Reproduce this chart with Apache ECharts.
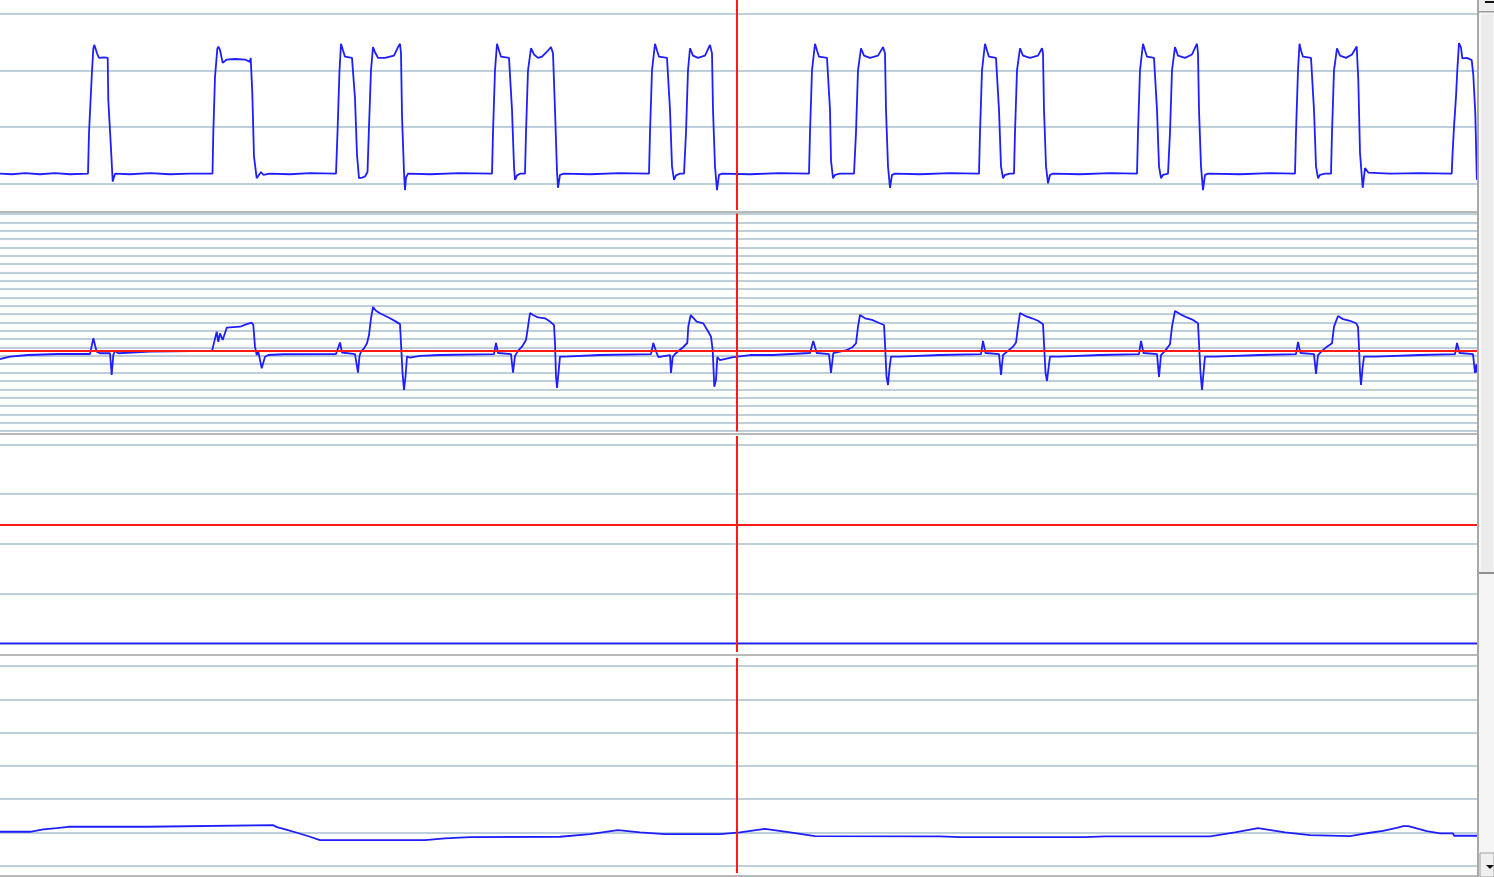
<!DOCTYPE html>
<html>
<head>
<meta charset="utf-8">
<title>Scope</title>
<script src="https://cdn.jsdelivr.net/npm/echarts@6.0.0/dist/echarts.min.js"></script>
<style>
  html, body { margin: 0; padding: 0; background: #fff; overflow: hidden; }
  #scope { width: 1494px; height: 877px; }
</style>
</head>
<body>
<div id="scope"></div>
<script>
  // time axis (samples) and cursor
  var timeMin = 0;
  var timeMax = 1477;
  var cursorTime = 737;

  // channel 1 : pulse train
  var ch1Trace = [
    [0,0.17],[12,0.16],[25,0.18],[40,0.16],[55,0.18],[70,0.16],[88,0.17],
    [89,0.89],[91.7,1.88],[93.3,2.38],[94.3,2.45],[96,2.36],[97,2.30],[99,2.22],[104,2.23],[107.7,2.22],[108.3,1.47],[110.7,0.71],[112.7,0.03],[113.5,0.06],[115,0.17],
    [130,0.16],[150,0.18],[170,0.16],[190,0.17],[212.5,0.17],
    [213.3,0.89],[215,1.88],[217.3,2.38],[218.3,2.42],[220,2.36],[222.7,2.13],[226.7,2.19],[235,2.20],[245,2.19],[250,2.15],[250.7,2.22],[252.3,1.60],[254,0.47],[256.7,0.09],[258,0.11],[261,0.20],[263.3,0.15],[270,0.17],
    [290,0.16],[310,0.18],[336,0.17],
    [337.5,0.9],[339.5,2.0],[341,2.47],[343,2.35],[345,2.24],[352,2.22],[354,2.24],[355,1.5],[357,0.5],[359,0.09],[362,0.10],[365,0.12],[367.5,0.20],
    [369,1.0],[371,2.0],[373,2.41],[375,2.32],[378,2.22],[385,2.22],[394,2.26],[398,2.41],[400,2.47],[401,2.30],[402,1.20],[404,0.20],[405,-0.12],[406,0.10],[408,0.17],
    [430,0.16],[460,0.18],[492,0.17],
    [493,0.9],[495,2.0],[497,2.47],[499,2.35],[501,2.24],[509,2.22],[511,2.24],[512,1.3],[514,0.3],[515,0.06],[517,0.14],[520,0.17],[525,0.17],
    [526,0.9],[528,2.0],[531,2.39],[534,2.28],[538,2.22],[542,2.24],[548,2.35],[551,2.41],[553,2.30],[555,1.3],[557,0.2],[558,-0.08],[560,0.15],[564,0.17],
    [590,0.16],[620,0.18],[649,0.17],
    [650,0.9],[652,2.0],[655,2.47],[657,2.35],[659,2.24],[667,2.22],[669,2.24],[670,1.3],[672,0.3],[674,0.06],[676,0.14],[680,0.17],[684,0.17],
    [686,0.9],[688,2.0],[690,2.39],[693,2.26],[698,2.22],[705,2.26],[710,2.45],[712,2.30],[713,1.3],[715,0.3],[717,-0.12],[719,0.15],[722,0.17],
    [750,0.16],[780,0.18],[809,0.17],
    [810,0.9],[812,2.0],[815,2.47],[817,2.35],[819,2.24],[827,2.22],[829,2.24],[830,1.3],[831,0.4],[833,0.09],[835,0.15],[840,0.17],[854,0.17],
    [856,0.9],[858,2.0],[861,2.39],[864,2.26],[870,2.22],[878,2.26],[883,2.41],[885,2.30],[886,1.3],[888,0.3],[890,-0.08],[892,0.15],[895,0.17],
    [920,0.16],[950,0.18],[979,0.17],
    [980,0.9],[982,2.0],[985,2.47],[987,2.35],[989,2.24],[996,2.22],[998,2.24],[999,1.3],[1001,0.3],[1003,0.09],[1005,0.15],[1010,0.17],[1014,0.17],
    [1015,0.9],[1017,2.0],[1020,2.39],[1023,2.26],[1030,2.22],[1038,2.26],[1042,2.39],[1043,2.30],[1044,1.3],[1046,0.3],[1048,0.0],[1050,0.15],[1053,0.17],
    [1080,0.16],[1110,0.18],[1137,0.17],
    [1138,0.9],[1140,2.0],[1143,2.47],[1145,2.35],[1147,2.24],[1154,2.22],[1156,2.24],[1157,1.3],[1159,0.3],[1161,0.09],[1163,0.15],[1168,0.17],
    [1170,0.9],[1172,2.0],[1175,2.41],[1178,2.26],[1185,2.22],[1192,2.28],[1197,2.47],[1198,2.30],[1199,1.3],[1201,0.3],[1203,-0.12],[1205,0.15],[1208,0.17],
    [1240,0.16],[1270,0.18],[1295,0.17],
    [1296,0.9],[1298,2.0],[1299.5,2.47],[1301,2.35],[1303,2.24],[1311,2.22],[1313,2.24],[1314,1.3],[1316,0.3],[1318,0.09],[1320,0.15],[1325,0.17],[1331,0.17],
    [1332,0.9],[1334,2.0],[1337,2.39],[1340,2.26],[1346,2.22],[1352,2.28],[1356.7,2.42],[1358.3,1.83],[1360,0.54],[1362.7,-0.08],[1365,0.27],[1368.3,0.19],
    [1390,0.17],[1420,0.18],[1451.7,0.17],
    [1452.5,0.5],[1454,1.0],[1456,1.53],[1457.3,2.0],[1459,2.48],[1461,2.40],[1462.3,2.21],[1467,2.22],[1471.7,2.18],[1473.3,1.92],[1475.3,1.24],[1476.7,0.17],[1477,0.06]
  ];

  // channel 2 : differentiated signal
  var ch2Trace = [
    [0,8.62],[10,8.90],[28,9.10],[58,9.22],[90,9.22],[93.3,11.10],[96.7,9.50],[100,9.31],[110,9.31],[111.7,6.71],[113.3,9.10],[115,9.62],[118.3,9.31],[150,9.50],[212,9.60],
    [213.3,9.62],[216.7,11.89],[218.3,10.69],[220,11.70],[222.7,10.90],[226.7,12.37],[240,12.49],[246.7,12.81],[251.7,12.97],[253.3,12.69],[255,10.10],[256.7,9.10],[258.3,9.50],[261.7,7.51],[265,8.90],[268.3,9.10],[283.3,9.19],[336,9.22],
    [338,9.30],[340,10.60],[342,9.40],[355,9.20],[357,9.00],[358,7.00],[359.5,9.00],[361,9.50],[364,9.90],[367,10.50],[369,11.50],[371,13.50],[373,14.85],[376,14.40],[380,14.10],[385,13.80],[390,13.50],[396,13.10],[400,12.80],[401,10.50],[402.5,7.00],[404,4.91],[405.5,6.50],[407,8.90],[410,8.80],[420,9.00],[440,9.10],[494,9.20],
    [496,10.54],[498,9.34],[511,9.20],[513,7.00],[515,9.00],[518,9.60],[522,10.10],[526,10.90],[528,12.50],[530,14.13],[533,13.90],[538,13.60],[545,13.50],[550,13.10],[554,12.70],[555,10.50],[556,6.50],[557,5.15],[558.5,7.00],[560,8.90],[565,8.90],[600,9.10],[651,9.20],
    [653.3,10.54],[656.7,9.34],[658.3,8.86],[670,9.10],[671,6.95],[672.7,8.86],[675,9.22],[683.3,10.06],[687.3,10.54],[688.3,12.52],[690.7,13.89],[696.7,13.09],[703.3,12.89],[708.3,11.89],[711,11.29],[712.7,9.70],[714.3,5.30],[716,6.11],[717.3,8.86],[720,8.50],[733.3,8.86],[750,9.10],[773,9.10],[810,9.34],
    [813.3,10.78],[816.7,9.34],[829,9.20],[831,6.95],[833.3,9.34],[846.7,9.70],[852,10.00],[856,10.50],[858,12.50],[860,13.89],[865,13.50],[872,13.30],[878,13.00],[884,12.70],[885,10.50],[886.5,6.50],[888,5.51],[889.5,7.50],[891,8.90],[900,8.90],[940,9.10],[981,9.20],
    [983,10.78],[985.5,9.34],[999,9.20],[1001,6.71],[1003,9.10],[1008,9.60],[1013,10.10],[1016,10.60],[1018,12.50],[1020,14.13],[1025,13.80],[1032,13.50],[1038,13.20],[1043,12.80],[1044,10.50],[1045.5,7.00],[1047,5.99],[1048.5,7.50],[1050,8.90],[1060,8.90],[1100,9.10],[1139,9.20],
    [1141,10.78],[1143.5,9.34],[1157,9.20],[1159,6.47],[1161,9.10],[1165,9.60],[1170,10.40],[1172,12.50],[1175,14.37],[1180,14.00],[1187,13.60],[1193,13.30],[1198,12.90],[1199,10.50],[1200.5,7.00],[1202,4.91],[1203.5,7.00],[1205,8.90],[1215,8.90],[1260,9.10],[1296,9.20],
    [1298,10.66],[1300.5,9.34],[1314,9.20],[1316,6.83],[1318,9.10],[1322,9.60],[1327,10.10],[1332,10.50],[1334,12.50],[1338,13.77],[1343,13.40],[1350,13.20],[1356,12.90],[1358,12.50],[1359,10.00],[1360,7.00],[1361,5.51],[1362.5,7.50],[1364,8.90],[1375,8.90],[1420,9.10],[1455,9.20],
    [1457,10.54],[1459.5,9.34],[1473,9.20],[1475,6.95],[1476.5,8.00],[1477,7.00]
  ];

  // channel 3 : flat
  var ch3Trace = [[0,0],[400,0],[800,0],[1200,0],[1477,0]];

  // channel 4 : slow drift
  var ch4Trace = [
    [0,1.02],[30,1.02],[31.7,1.05],[43.3,1.09],[56.7,1.13],[68.3,1.17],[148,1.17],[149,1.22],[273,1.22],[277,1.16],[287,1.08],[297,0.99],[310,0.87],[320,0.77],
    [425,0.77],[445,0.82],[470,0.86],[560,0.87],[590,0.95],[618,1.07],[640,1.00],[665,0.95],[720,0.95],[740,1.00],[765,1.11],[790,1.00],[815,0.89],
    [940,0.88],[960,0.86],[1085,0.86],[1105,0.88],[1210,0.88],[1235,1.00],[1258,1.13],[1285,1.00],[1310,0.92],[1350,0.89],
    [1361.7,0.95],[1370,0.99],[1383,1.05],[1396.7,1.14],[1403.3,1.19],[1408.3,1.19],[1416.7,1.12],[1426.7,1.04],[1440,0.97],[1453,0.97],[1454,0.90],[1477,0.90]
  ];

  // horizontal grid levels per channel
  var ch1Levels = [0, 1, 2, 3];
  var ch2Levels = [0,1,2,3,4,5,6,7,8,9,10,11,12,13,14,15,16,17,18,19,20,21,22,23,24,25,26];
  var ch3Levels = [0, 1, 2, 3, 4];
  var ch4Levels = [0, 1, 2, 3, 4, 5, 6];

  // reference (trigger) levels
  var ch2Ref = 9.66;
  var ch3Ref = 2.39;

  // axis windows
  var ch1Range = [-0.473, 3.244];
  var ch2Range = [-0.06, 26.05];
  var ch3Range = [-0.175, 4.171];
  var ch4Range = [-0.219, 6.241];

  var gridColor = '#bccfdb';
  var traceColor = '#1e1eff';
  var refColor = '#ff1a1a';

  var panels = [
    { trace: ch1Trace, levels: ch1Levels, range: ch1Range, ref: null,   top: 0,     height: 210, offset: 1.5 },
    { trace: ch2Trace, levels: ch2Levels, range: ch2Range, ref: ch2Ref, top: 213.5, height: 218, offset: 2 },
    { trace: ch3Trace, levels: ch3Levels, range: ch3Range, ref: ch3Ref, top: 436,   height: 216, offset: 2.5 },
    { trace: ch4Trace, levels: ch4Levels, range: ch4Range, ref: null,   top: 658,   height: 215, offset: 3 }
  ];

  var grid = [], xAxis = [], yAxis = [], series = [];

  panels.forEach(function (p, i) {
    grid.push({ left: 0, right: 17, top: p.top, height: p.height });
    xAxis.push({
      type: 'value', gridIndex: i, min: timeMin, max: timeMax,
      position: 'bottom', offset: p.offset,
      axisLine: { show: true, onZero: false, lineStyle: { color: '#b9b9b9', width: 2 } },
      axisTick: { show: false }, axisLabel: { show: false }, splitLine: { show: false }
    });
    yAxis.push({
      type: 'value', gridIndex: i, min: p.range[0], max: p.range[1],
      axisLine: { show: false }, axisTick: { show: false },
      axisLabel: { show: false }, splitLine: { show: false }
    });

    // grid levels, kept under the trace
    series.push({
      type: 'line', xAxisIndex: i, yAxisIndex: i, data: [], z: 1, silent: true,
      markLine: {
        z: 1, silent: true, symbol: ['none', 'none'], label: { show: false },
        lineStyle: { color: gridColor, width: 2, type: 'solid' },
        emphasis: { disabled: true },
        data: p.levels.map(function (v) { return { yAxis: v }; })
      }
    });

    // signal
    series.push({
      type: 'line', xAxisIndex: i, yAxisIndex: i, data: p.trace, z: 3,
      showSymbol: false, symbol: 'none', silent: true,
      lineStyle: { color: traceColor, width: 1.8 }
    });

    // red cursor + reference, on top
    var marks = [{ xAxis: cursorTime }];
    if (p.ref !== null) marks.push({ yAxis: p.ref });
    series.push({
      type: 'line', xAxisIndex: i, yAxisIndex: i, data: [], z: 6, silent: true,
      markLine: {
        z: 6, silent: true, symbol: ['none', 'none'], label: { show: false },
        lineStyle: { color: refColor, width: 2, type: 'solid' },
        emphasis: { disabled: true },
        data: marks
      }
    });
  });

  // scroll bar on the right
  var graphic = [
    { type: 'rect', z: 10, shape: { x: 1477, y: 0, width: 2, height: 877 }, style: { fill: '#a8a8a8' } },
    { type: 'rect', z: 10, shape: { x: 1479, y: 0, width: 15, height: 877 }, style: { fill: '#f5f5f5' } },
    { type: 'rect', z: 11, shape: { x: 1480, y: 13, width: 14, height: 560 }, style: { fill: '#ececec', stroke: '#ffffff', lineWidth: 1 } },
    { type: 'rect', z: 11, shape: { x: 1479, y: 572, width: 15, height: 2 }, style: { fill: '#8f8f8f' } },
    { type: 'rect', z: 11, shape: { x: 1479, y: 0, width: 15, height: 12 }, style: { fill: '#eeeeee' } },
    { type: 'rect', z: 11, shape: { x: 1479, y: 11, width: 15, height: 1.5 }, style: { fill: '#9a9a9a' } },
    { type: 'rect', z: 12, shape: { x: 1485, y: 1, width: 9, height: 2 }, style: { fill: '#111111' } },
    { type: 'rect', z: 11, shape: { x: 1480, y: 853, width: 14, height: 24 }, style: { fill: '#f0f0f0', stroke: '#a0a0a0', lineWidth: 1 } },
    { type: 'polygon', z: 12, shape: { points: [[1486, 865], [1494, 865], [1490, 869]] }, style: { fill: '#111111' } }
  ];

  var scope = echarts.init(document.getElementById('scope'));
  scope.setOption({
    animation: false,
    backgroundColor: '#ffffff',
    grid: grid,
    xAxis: xAxis,
    yAxis: yAxis,
    series: series,
    graphic: graphic
  });
</script>
</body>
</html>
